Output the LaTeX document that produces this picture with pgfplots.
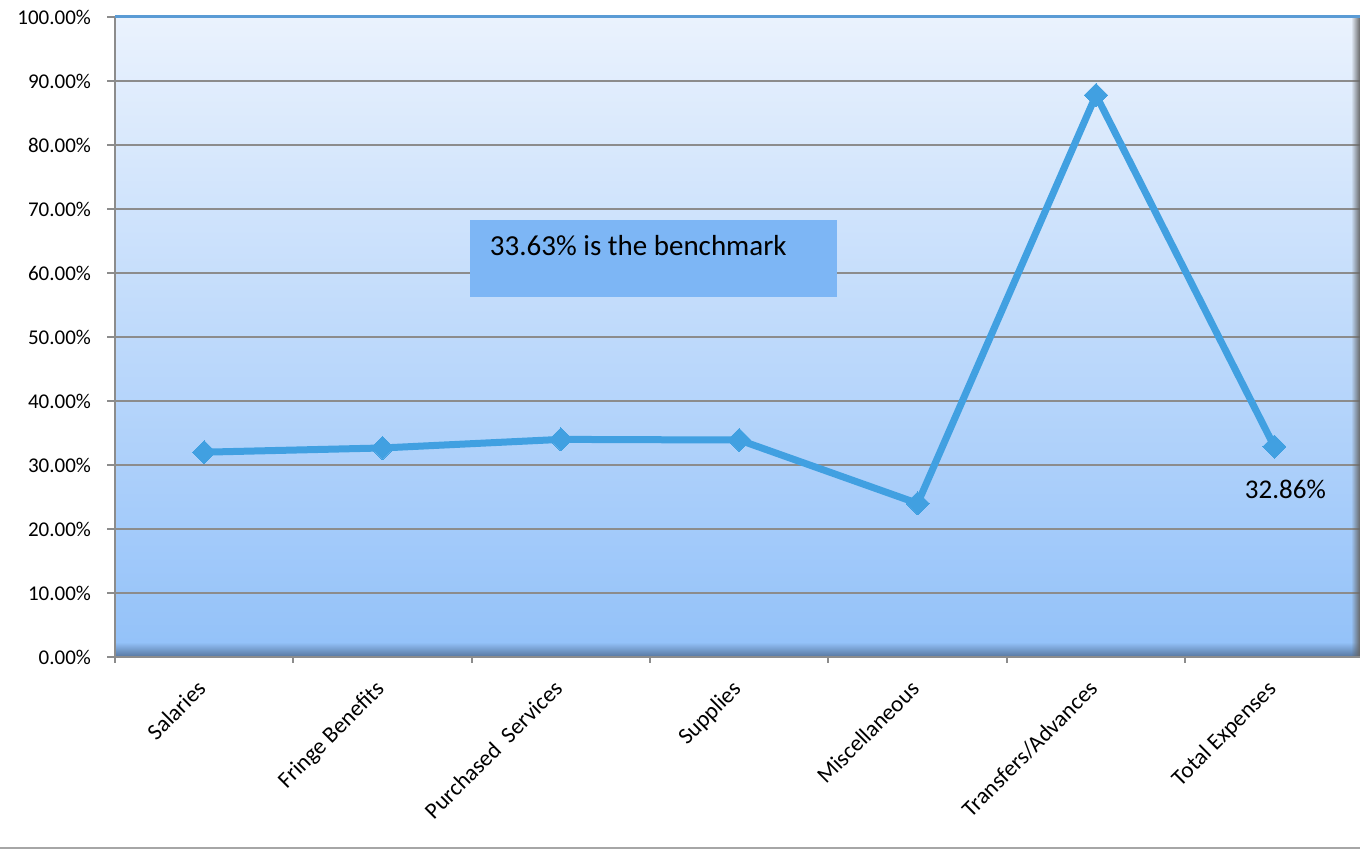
\documentclass[border=0pt]{standalone}
\usepackage{pgfplots}
\pgfplotsset{compat=1.18}
\usepackage{fontspec}
\setmainfont{Carlito}
\usetikzlibrary{fadings}
\definecolor{bgtop}{HTML}{EAF2FD}
\definecolor{bgbot}{HTML}{92C1F9}
\definecolor{linec}{HTML}{41A0E1}
\definecolor{boxc}{HTML}{7DB6F5}
\definecolor{gridc}{HTML}{8C8C8C}
\definecolor{floorc}{HTML}{56769F}
\definecolor{topline}{HTML}{5A9BD5}
\tikzfading[name=fadeup, top color=transparent!100, bottom color=transparent!0]
\tikzfading[name=fadeleft, left color=transparent!100, right color=transparent!0]
\begin{document}
\begin{tikzpicture}
\path[use as bounding box] (0,0) rectangle (680pt,424.5pt);
\begin{axis}[
  at={(57.5pt,96pt)}, anchor=south west,
  scale only axis, width=622.5pt, height=320pt,
  xmin=-0.5, xmax=6.48, ymin=0, ymax=100,
  axis background/.style={shade, top color=bgtop, bottom color=bgbot},
  axis line style={draw=none},
  xtick={0,...,6},
  xticklabels={Salaries, Fringe Benefits, Purchased\ \ Services, Supplies, Miscellaneous, Transfers/Advances, Total Expenses},
  major x tick style={draw=none},
  minor xtick={-0.5,0.5,...,5.5},
  minor tick length=3pt,
  minor x tick style={gridc, line width=1pt},
  xtick pos=bottom, ytick pos=left, tick align=outside,
  ytick={0,10,...,100},
  major tick length=4pt,
  major y tick style={gridc, line width=1pt},
  ymajorgrids, major grid style={gridc, line width=1pt},
  /pgf/number format/assume math mode=true,
  yticklabel={\pgfmathprintnumber[fixed,fixed zerofill,precision=2]{\tick}\%},
  yticklabel style={font=\fontsize{10.5}{12}\selectfont, xshift=-4.5pt},
  xticklabel style={font=\fontsize{11.5}{13}\selectfont, rotate=45, anchor=north east, xshift=-4.5pt, yshift=1.5pt},
  clip=false,
]
\fill[floorc, path fading=fadeup] (axis cs:-0.5,0) rectangle (axis cs:6.48,2.3);
\fill[gray!80!black, path fading=fadeleft] (axis cs:6.43,0) rectangle (axis cs:6.48,100);
\draw[gridc, line width=1.2pt] (axis cs:-0.5,0) -- (axis cs:-0.5,100);
\draw[gridc, line width=1.2pt] (axis cs:-0.5,0) -- (axis cs:6.48,0);
\draw[topline, line width=1.5pt] (axis cs:-0.5,100) -- (axis cs:6.48,100);
\fill[boxc] (axis cs:1.49,68.3) rectangle (axis cs:3.55,56.25);
\node[anchor=west, font=\fontsize{14.5}{16}\selectfont, inner sep=0pt] at (axis cs:1.6,64.3) {33.63\% is the benchmark};
\addplot[color=linec, line width=3.5pt, mark=square*, mark size=4.1pt, mark options={rotate=45, solid, fill=linec, draw=linec, line width=0pt}]
  coordinates {(0,32.0) (1,32.66) (2,34.0) (3,33.9) (4,24.0) (5,87.8) (6,32.86)};
\node[font=\fontsize{13.5}{15}\selectfont] at (axis cs:6,32.86) [xshift=5.5pt, yshift=-21.5pt] {32.86\%};
\end{axis}
\draw[gray!70, line width=1pt] (0,0.5pt) -- (680pt,0.5pt);
\end{tikzpicture}
\end{document}
